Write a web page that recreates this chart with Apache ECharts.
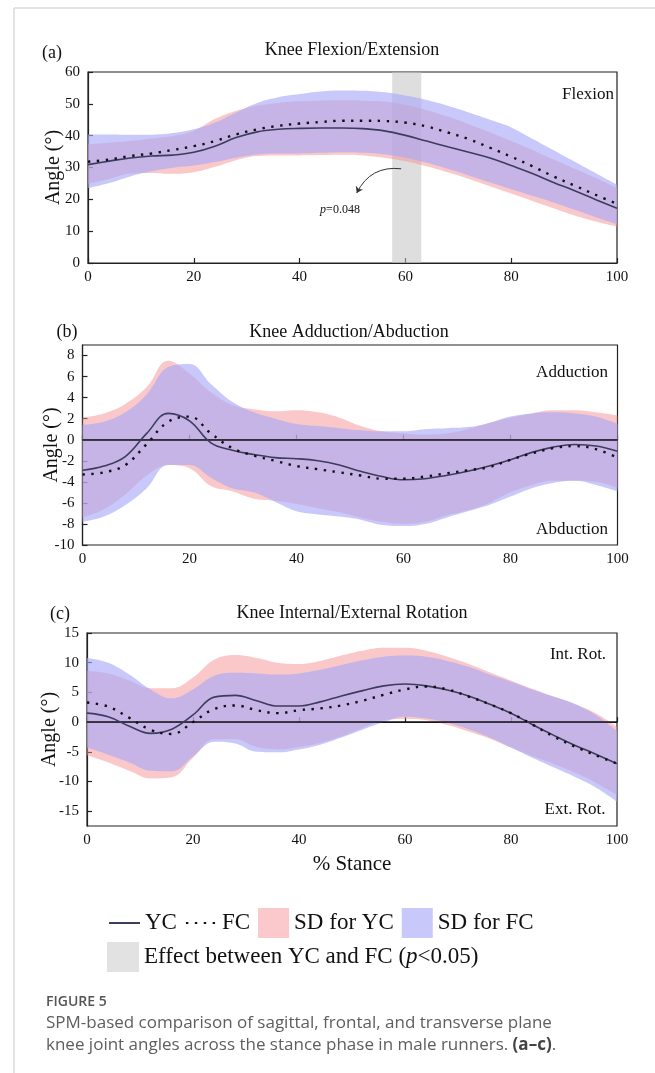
<!DOCTYPE html>
<html>
<head>
<meta charset="utf-8">
<script src="https://cdn.jsdelivr.net/npm/echarts@6.0.0/dist/echarts.min.js"></script>
<style>
html, body { margin: 0; padding: 0; background: #fff; }
#chart { width: 655px; height: 1073px; }
</style>
</head>
<body>
<div id="chart"></div>
<script>
// % stance sample points
const stance = [0, 4, 8, 12, 16, 20, 24, 28, 32, 36, 40, 44, 48, 52, 56, 60, 64, 68, 72, 76, 80, 84, 88, 92, 96, 100];

// (a) knee flexion/extension
const aYC   = [30.9, 32.0, 33.0, 33.6, 33.9, 34.8, 36.7, 39.4, 41.2, 42.0, 42.3, 42.4, 42.4, 42.2, 41.5, 40.1, 38.3, 36.5, 34.8, 33.0, 30.6, 28.1, 25.3, 22.7, 19.9, 17.2];
const aFC   = [31.8, 32.5, 33.6, 34.4, 35.5, 36.7, 38.3, 40.4, 42.0, 43.1, 43.8, 44.3, 44.7, 44.7, 44.6, 44.1, 42.9, 41.0, 38.9, 36.2, 33.4, 30.4, 27.2, 24.3, 21.4, 18.6];
const aYCup = [37.3, 37.8, 38.3, 39.1, 39.9, 41.5, 45.2, 47.8, 49.4, 50.3, 50.8, 51.0, 51.1, 51.0, 50.7, 49.6, 48.0, 46.0, 43.6, 41.0, 38.3, 35.5, 32.5, 29.6, 26.7, 23.5];
const aYClo = [24.9, 26.4, 28.1, 28.3, 28.0, 28.5, 30.2, 32.3, 33.6, 33.8, 33.8, 33.9, 34.0, 33.8, 33.1, 32.0, 30.4, 28.5, 26.4, 24.1, 21.8, 19.5, 17.2, 14.9, 13.0, 11.4];
const aFCup = [40.4, 40.4, 40.3, 40.3, 40.8, 42.0, 44.1, 47.3, 50.3, 52.1, 53.1, 53.9, 54.2, 54.1, 53.6, 52.6, 51.2, 49.4, 47.3, 45.0, 42.6, 39.0, 35.4, 31.8, 28.2, 24.6];
const aFClo = [23.5, 25.1, 27.2, 28.8, 29.9, 30.6, 31.7, 33.1, 34.1, 34.4, 34.4, 34.6, 34.8, 34.6, 34.1, 33.1, 31.5, 29.6, 27.5, 25.3, 23.2, 21.1, 19.0, 16.7, 14.4, 12.2];

// (b) knee adduction/abduction
const bYC   = [-2.9, -2.5, -1.6, 0.6, 2.5, 1.8, -0.3, -1.0, -1.4, -1.7, -1.8, -2.0, -2.4, -3.0, -3.5, -3.8, -3.7, -3.4, -3.0, -2.5, -1.9, -1.2, -0.7, -0.45, -0.6, -1.1];
const bFC   = [-3.3, -3.1, -2.4, -0.4, 1.7, 2.2, 0.6, -0.8, -1.5, -2.0, -2.5, -2.8, -3.1, -3.4, -3.7, -3.7, -3.5, -3.2, -2.9, -2.6, -1.9, -1.3, -0.8, -0.6, -0.9, -1.7];
const bYCup = [2.1, 2.5, 3.4, 5.0, 7.5, 6.3, 4.5, 3.3, 2.9, 2.7, 2.8, 2.6, 2.1, 1.3, 0.8, 0.6, 0.5, 0.6, 1.0, 1.6, 2.1, 2.5, 2.8, 2.8, 2.6, 2.3];
const bYClo = [-7.4, -6.6, -5.2, -3.4, -2.4, -2.7, -4.4, -4.9, -5.6, -5.8, -6.1, -6.5, -6.9, -7.4, -7.8, -8.0, -7.8, -7.2, -6.7, -6.0, -5.0, -4.3, -3.9, -3.9, -4.0, -4.6];
const bFCup = [1.4, 1.7, 2.6, 4.3, 6.9, 7.2, 5.3, 3.6, 2.6, 2.0, 1.5, 1.3, 1.1, 0.9, 0.8, 0.8, 1.0, 1.1, 1.2, 1.6, 2.2, 2.5, 2.6, 2.5, 2.2, 1.5];
const bFClo = [-7.8, -7.3, -6.2, -4.6, -2.4, -2.4, -3.6, -4.6, -5.0, -5.9, -6.8, -7.1, -7.3, -7.6, -8.1, -8.2, -8.0, -7.4, -6.8, -6.2, -5.4, -4.6, -4.1, -3.9, -4.3, -4.9];

// (c) knee internal/external rotation
const cYC   = [1.5, 0.9, -0.7, -1.9, -1.2, 1.2, 4.2, 4.5, 3.6, 2.7, 2.7, 3.4, 4.4, 5.3, 6.1, 6.4, 6.1, 5.4, 4.4, 3.0, 1.5, -0.4, -2.2, -3.9, -5.4, -7.0];
const cFC   = [3.3, 2.6, 0.7, -1.3, -2.0, 0.0, 2.2, 2.8, 2.0, 1.5, 2.0, 2.3, 2.8, 3.6, 4.6, 5.5, 6.0, 5.5, 4.3, 3.0, 1.5, -0.4, -2.4, -4.1, -5.6, -7.0];
const cYCup = [8.6, 8.2, 7.0, 5.7, 5.7, 7.5, 10.5, 11.3, 10.8, 10.0, 9.8, 10.3, 11.2, 12.0, 12.5, 12.5, 12.0, 11.0, 9.8, 8.4, 7.0, 5.6, 4.3, 3.0, 1.5, -0.8];
const cYClo = [-5.6, -6.8, -8.2, -9.5, -9.3, -6.0, -2.9, -2.9, -4.2, -4.6, -4.2, -3.5, -2.4, -1.0, 0.3, 0.5, 0.3, -0.5, -1.6, -2.8, -4.3, -5.7, -7.0, -8.5, -10.2, -12.3];
const cFCup = [10.8, 10.0, 8.0, 5.5, 4.0, 5.5, 7.8, 8.3, 8.2, 8.0, 8.2, 8.8, 9.6, 10.4, 11.0, 11.2, 11.0, 10.3, 9.3, 8.0, 6.8, 5.5, 4.3, 3.1, 1.2, -1.5];
const cFClo = [-4.3, -5.5, -6.8, -8.2, -8.3, -5.8, -3.3, -3.6, -5.0, -5.1, -4.6, -3.8, -2.6, -1.3, 0.0, 0.9, 0.6, -0.1, -1.2, -2.6, -4.3, -6.0, -7.6, -9.2, -11.0, -13.4];

// significant SPM cluster in (a), % stance
const effectRange = [57.5, 63];
// arrow from the cluster to its p value, in (% stance, angle)
const pArrow = [[59.2, 29.6], [50.8, 22]];

// tick labels
const aTicks = [0, 10, 20, 30, 40, 50, 60];
const bTicks = [-10, -8, -6, -4, -2, 0, 2, 4, 6, 8];
const cTicks = [-15, -10, -5, 0, 5, 10, 15];

const SERIF = "'Liberation Serif', 'Times New Roman', serif";
const SANS = "'Open Sans', 'Noto Sans', sans-serif";
const EFFECT = 'Effect between YC and FC (p<0.05)';

const pinkFill = 'rgba(245,145,145,0.5)';
const blueFill = 'rgba(169,169,247,0.64)';

const panels = [
  { yc: aYC, fc: aFC, ycUp: aYCup, ycLo: aYClo, fcUp: aFCup, fcLo: aFClo },
  { yc: bYC, fc: bFC, ycUp: bYCup, ycLo: bYClo, fcUp: bFCup, fcLo: bFClo },
  { yc: cYC, fc: cFC, ycUp: cYCup, ycLo: cYClo, fcUp: cFCup, fcLo: cFClo }
];

function pairs(ys) {
  return stance.map((x, i) => [x, ys[i]]);
}
function spread(up, lo) {
  return up.map((u, i) => +(u - lo[i]).toFixed(2));
}

function panelSeries(p, i) {
  // SD bands sit on a hidden category axis (same 0..100 spacing) so they can be stacked
  const band = {
    type: 'line', xAxisIndex: 3 + i, yAxisIndex: i, smooth: 0.4,
    symbol: 'none', showSymbol: false, silent: true, stackStrategy: 'all', z: 2
  };
  const mean = {
    type: 'line', xAxisIndex: i, yAxisIndex: i, smooth: 0.4,
    symbol: 'none', showSymbol: false, silent: true, z: 5
  };
  const list = [
    Object.assign({}, band, { name: 'YC lower', stack: 'yc' + i, data: p.ycLo, lineStyle: { opacity: 0 } }),
    Object.assign({}, band, { name: 'SD for YC', stack: 'yc' + i, data: spread(p.ycUp, p.ycLo),
      lineStyle: { opacity: 0 }, itemStyle: { color: '#fbc8cb' }, areaStyle: { color: pinkFill, opacity: 1 } }),
    Object.assign({}, band, { name: 'FC lower', stack: 'fc' + i, data: p.fcLo, lineStyle: { opacity: 0 } }),
    Object.assign({}, band, { name: 'SD for FC', stack: 'fc' + i, data: spread(p.fcUp, p.fcLo),
      lineStyle: { opacity: 0 }, itemStyle: { color: '#c8c8fa' }, areaStyle: { color: blueFill, opacity: 1 } }),
    Object.assign({}, mean, { name: 'YC', data: pairs(p.yc), lineStyle: { color: '#3c3c5e', width: 1.6 }, itemStyle: { color: '#222' } }),
    Object.assign({}, mean, { name: 'FC', data: pairs(p.fc), lineStyle: { color: '#111', width: 2.4, type: [2.4, 6.5] }, itemStyle: { color: '#111' } })
  ];
  if (i > 0) {
    list[4].markLine = {
      silent: true, symbol: ['none', 'none'], label: { show: false },
      lineStyle: { color: '#111', width: 1.5, type: 'solid' },
      data: [{ yAxis: 0 }]
    };
  }
  return list;
}

const series = [];
panels.forEach((p, i) => series.push(...panelSeries(p, i)));
series.push({
  type: 'line', name: EFFECT, xAxisIndex: 0, yAxisIndex: 0, data: [], silent: true, z: 3,
  itemStyle: { color: '#e2e2e2' },
  markArea: {
    silent: true,
    itemStyle: { color: 'rgba(195,195,195,0.55)' },
    data: [[{ xAxis: effectRange[0] }, { xAxis: effectRange[1] }]]
  }
});
series.push({
  type: 'lines', name: 'p arrow', coordinateSystem: 'cartesian2d', xAxisIndex: 0, yAxisIndex: 0,
  silent: true, z: 6, symbol: ['none', 'arrow'], symbolSize: 6,
  lineStyle: { color: '#333', width: 1, opacity: 1, curveness: -0.35 },
  data: [{ coords: pArrow }]
});

const grids = [
  { left: 88, right: 38, top: 72, height: 191 },
  { left: 82.5, right: 37.5, top: 345, height: 200 },
  { left: 87, right: 38, top: 633, height: 193 }
].map(g => Object.assign(g, { show: true, borderColor: '#222', borderWidth: 1.2, backgroundColor: 'transparent' }));

const axisText = { fontFamily: SERIF, fontSize: 15, color: '#111' };

const xAxes = [0, 1, 2].map(i => ({
  gridIndex: i, type: 'value', min: 0, max: 100, interval: 20,
  axisLine: { show: true, lineStyle: { color: '#222', width: 1.2 } },
  axisTick: { show: true, inside: true, length: 5, lineStyle: { color: '#222', width: 1.2 } },
  axisLabel: Object.assign({ margin: 7 }, axisText),
  splitLine: { show: false },
  name: i === 2 ? '% Stance' : '',
  nameLocation: 'middle', nameGap: 28, nameMoveOverlap: false,
  nameTextStyle: { fontFamily: SERIF, fontSize: 21, color: '#111' }
}));
[0, 1, 2].forEach(i => xAxes.push({
  gridIndex: i, type: 'category', data: stance, boundaryGap: false, show: false
}));

const yRanges = [
  { min: 0, max: 60, ticks: aTicks, gap: 24 },
  { min: -10, max: 9, ticks: bTicks, gap: 21 },
  { min: -17.5, max: 15, ticks: cTicks, gap: 27 }
];
const yAxes = yRanges.map((r, i) => ({
  gridIndex: i, type: 'value', min: r.min, max: r.max,
  axisLine: { show: true, lineStyle: { color: '#222', width: 1.2 } },
  axisTick: { show: true, inside: true, length: 5, customValues: r.ticks, lineStyle: { color: '#222', width: 1.2 } },
  axisLabel: Object.assign({ margin: 8, customValues: r.ticks }, axisText),
  splitLine: { show: false },
  name: 'Angle (°)', nameLocation: 'middle', nameGap: r.gap, nameMoveOverlap: false,
  nameTextStyle: { fontFamily: SERIF, fontSize: 20, color: '#111' }
}));

function label(text, x, y, size, extra) {
  return {
    type: 'text', x: x, y: y, silent: true, z: 10,
    style: Object.assign({
      text: text, fontFamily: SERIF, fontSize: size, fill: '#111',
      align: 'center', verticalAlign: 'middle', textAlign: 'center', textVerticalAlign: 'middle'
    }, extra || {})
  };
}

const graphic = [
  { type: 'line', silent: true, shape: { x1: 14, y1: 8, x2: 655, y2: 8 }, style: { stroke: '#dadada', lineWidth: 1.5 } },
  { type: 'line', silent: true, shape: { x1: 14, y1: 8, x2: 14, y2: 1073 }, style: { stroke: '#dadada', lineWidth: 1.5 } },
  label('Knee Flexion/Extension', 352, 50, 18),
  label('Knee Adduction/Abduction', 349, 332, 18),
  label('Knee Internal/External Rotation', 352, 613, 18),
  label('(a)', 52, 53, 18),
  label('(b)', 67, 332, 18),
  label('(c)', 60, 614, 18),
  label('Flexion', 588, 95, 17),
  label('Adduction', 572, 373, 17),
  label('Abduction', 572, 530, 17),
  label('Int. Rot.', 578, 655, 17),
  label('Ext. Rot.', 575, 810, 17),
  label('{i|p}=0.048', 340, 210, 12, { rich: { i: { fontStyle: 'italic', fontFamily: SERIF, fontSize: 12, fill: '#111' } } }),
  {
    type: 'text', x: 46, y: 1002, silent: true,
    style: { text: 'FIGURE 5', fontFamily: SANS, fontSize: 14, fontWeight: 600, fill: '#555',
      align: 'left', verticalAlign: 'middle', textAlign: 'left', textVerticalAlign: 'middle' }
  },
  {
    type: 'text', x: 46, y: 1023, silent: true,
    style: { text: 'SPM-based comparison of sagittal, frontal, and transverse plane', fontFamily: SANS, fontSize: 17, fill: '#5e5e5e',
      align: 'left', verticalAlign: 'middle', textAlign: 'left', textVerticalAlign: 'middle' }
  },
  {
    type: 'text', x: 46, y: 1045, silent: true,
    style: { text: '{n|knee joint angles across the stance phase in male runners. }{b|(a–c)}{n|.}', fontFamily: SANS, fontSize: 17, fill: '#5e5e5e',
      align: 'left', verticalAlign: 'middle', textAlign: 'left', textVerticalAlign: 'middle',
      rich: { n: { fontFamily: SANS, fontSize: 17, fill: '#5e5e5e' }, b: { fontFamily: SANS, fontSize: 17, fontWeight: 'bold', fill: '#444' } } }
  }
];

const legendText = {
  fontFamily: SERIF, fontSize: 23, color: '#111',
  rich: {
    n: { fontFamily: SERIF, fontSize: 23, color: '#111' },
    i: { fontFamily: SERIF, fontSize: 23, fontStyle: 'italic', color: '#111' }
  }
};

const option = {
  animation: false,
  backgroundColor: '#fff',
  grid: grids,
  xAxis: xAxes,
  yAxis: yAxes,
  series: series,
  graphic: graphic,
  legend: [
    {
      left: 103, top: 903, itemWidth: 31, itemHeight: 30, itemGap: 8, selectedMode: false,
      textStyle: legendText,
      data: [
        { name: 'YC', itemStyle: { opacity: 0 } },
        { name: 'FC', itemStyle: { opacity: 0 } },
        { name: 'SD for YC', icon: 'rect', itemStyle: { color: '#fbc8cb' } },
        { name: 'SD for FC', icon: 'rect', itemStyle: { color: '#c8c8fa' } }
      ]
    },
    {
      left: 102, top: 937, itemWidth: 32, itemHeight: 30, selectedMode: false,
      textStyle: legendText,
      formatter: () => '{n|Effect between YC and FC (}{i|p}{n|<0.05)}',
      data: [{ name: EFFECT, icon: 'rect', itemStyle: { color: '#e2e2e2' } }]
    }
  ]
};

const chart = echarts.init(document.getElementById('chart'), null, { renderer: 'canvas' });
chart.setOption(option);
</script>
</body>
</html>
